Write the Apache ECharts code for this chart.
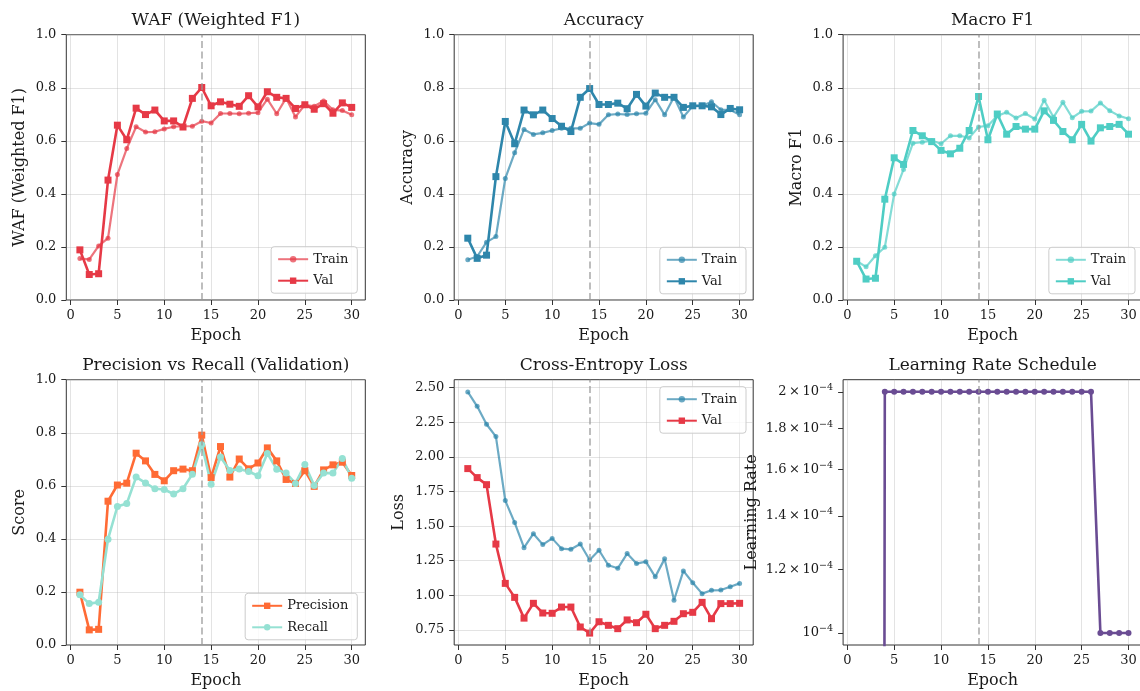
<!DOCTYPE html>
<html>
<head>
<meta charset="utf-8">
<title>Training curves</title>
<script src="https://cdn.jsdelivr.net/npm/echarts@6/dist/echarts.min.js"></script>
<style>
  html, body { margin: 0; padding: 0; background: #fff; }
  #main { width: 1140px; height: 691px; }
</style>
</head>
<body>
<div id="main"></div>
<script>
// 数据
let epochs = [1, 2, 3, 4, 5, 6, 7, 8, 9, 10, 11, 12, 13, 14, 15, 16, 17, 18, 19, 20, 21, 22, 23, 24, 25, 26, 27, 28, 29, 30]
let bestEpoch = 14

let wafTrain = [0.156, 0.153, 0.204, 0.233, 0.473, 0.571, 0.653, 0.633, 0.634, 0.645, 0.653, 0.655, 0.655, 0.674, 0.667, 0.703, 0.703, 0.702, 0.704, 0.706, 0.757, 0.702, 0.761, 0.690, 0.736, 0.730, 0.750, 0.717, 0.714, 0.698]
let wafVal = [0.189, 0.096, 0.099, 0.452, 0.659, 0.604, 0.723, 0.699, 0.716, 0.675, 0.675, 0.652, 0.760, 0.801, 0.732, 0.747, 0.738, 0.730, 0.770, 0.728, 0.785, 0.764, 0.760, 0.722, 0.736, 0.719, 0.740, 0.704, 0.743, 0.726]

let accTrain = [0.152, 0.164, 0.218, 0.239, 0.458, 0.555, 0.643, 0.624, 0.630, 0.639, 0.647, 0.647, 0.647, 0.667, 0.662, 0.698, 0.701, 0.699, 0.702, 0.704, 0.755, 0.698, 0.765, 0.690, 0.731, 0.731, 0.747, 0.717, 0.717, 0.698]
let accVal = [0.233, 0.157, 0.169, 0.465, 0.673, 0.589, 0.716, 0.698, 0.716, 0.684, 0.655, 0.635, 0.764, 0.797, 0.737, 0.737, 0.742, 0.721, 0.775, 0.731, 0.780, 0.764, 0.764, 0.726, 0.732, 0.732, 0.728, 0.699, 0.722, 0.717]

let f1Train = [0.147, 0.125, 0.167, 0.199, 0.400, 0.492, 0.591, 0.595, 0.601, 0.589, 0.619, 0.619, 0.611, 0.652, 0.657, 0.694, 0.708, 0.686, 0.703, 0.682, 0.753, 0.689, 0.745, 0.687, 0.711, 0.712, 0.743, 0.713, 0.694, 0.683]
let f1Val = [0.146, 0.079, 0.082, 0.380, 0.536, 0.511, 0.639, 0.619, 0.597, 0.564, 0.551, 0.572, 0.639, 0.767, 0.604, 0.701, 0.625, 0.654, 0.644, 0.644, 0.713, 0.677, 0.635, 0.604, 0.662, 0.599, 0.649, 0.654, 0.662, 0.625]

let precVal = [0.199, 0.057, 0.059, 0.542, 0.603, 0.610, 0.723, 0.694, 0.643, 0.619, 0.657, 0.663, 0.657, 0.791, 0.631, 0.748, 0.633, 0.701, 0.664, 0.686, 0.743, 0.694, 0.624, 0.609, 0.657, 0.598, 0.660, 0.679, 0.689, 0.639]
let recVal = [0.189, 0.156, 0.161, 0.399, 0.522, 0.533, 0.633, 0.611, 0.589, 0.586, 0.569, 0.589, 0.644, 0.755, 0.606, 0.709, 0.658, 0.663, 0.654, 0.638, 0.722, 0.662, 0.648, 0.609, 0.680, 0.601, 0.648, 0.648, 0.703, 0.629]

let lossTrain = [2.469, 2.365, 2.235, 2.146, 1.684, 1.525, 1.344, 1.445, 1.366, 1.411, 1.337, 1.332, 1.370, 1.255, 1.325, 1.217, 1.195, 1.301, 1.229, 1.243, 1.133, 1.263, 0.964, 1.176, 1.091, 1.012, 1.036, 1.038, 1.062, 1.086]
let lossVal = [1.915, 1.850, 1.799, 1.370, 1.086, 0.985, 0.835, 0.942, 0.872, 0.870, 0.915, 0.915, 0.771, 0.727, 0.809, 0.783, 0.759, 0.822, 0.802, 0.863, 0.759, 0.783, 0.812, 0.867, 0.877, 0.949, 0.831, 0.940, 0.940, 0.942]

// 前三个 epoch 学习率为 0，在对数轴上看不到
let lrValues = [0, 0, 0, 2e-4, 2e-4, 2e-4, 2e-4, 2e-4, 2e-4, 2e-4, 2e-4, 2e-4, 2e-4, 2e-4, 2e-4, 2e-4, 2e-4, 2e-4, 2e-4, 2e-4, 2e-4, 2e-4, 2e-4, 2e-4, 2e-4, 2e-4, 1e-4, 1e-4, 1e-4, 1e-4]

// 刻度
let epochTicks = [0, 5, 10, 15, 20, 25, 30]
let lossTicks = [0.75, 1.00, 1.25, 1.50, 1.75, 2.00, 2.25, 2.50]
let lrTicks = [1e-4, 1.2e-4, 1.4e-4, 1.6e-4, 1.8e-4, 2e-4]

let FONT = 'DejaVu Serif'
let TEXT = '#1a1a1a'
let SPINE = '#333'
let GRIDLINE = 'rgba(176,176,176,0.35)'

let panelLeft = [66.3, 454.2, 843.1]
let panelTop = [34.7, 379.7]
let panelW = 299
let panelH = 265.3

let option = {
  animation: false,
  backgroundColor: '#fff',
  title: [],
  legend: [],
  grid: [],
  xAxis: [],
  yAxis: [],
  series: []
}

function pairs (values) {
  return epochs.map(function (e, i) { return [e, values[i]] })
}

function addPanel (idx, cfg) {
  let col = idx % 3
  let row = Math.floor(idx / 3)
  let left = panelLeft[col]
  let top = panelTop[row]
  option.title.push({
    text: cfg.title,
    left: left + panelW / 2,
    top: top - 23,
    textAlign: 'center',
    padding: 0,
    textStyle: { fontFamily: FONT, fontSize: 17, fontWeight: 'normal', color: TEXT }
  })
  option.grid.push({
    left: left,
    top: top,
    width: panelW,
    height: panelH,
    show: true,
    borderColor: SPINE,
    borderWidth: 1,
    backgroundColor: 'transparent',
    outerBoundsMode: 'none'
  })
  option.xAxis.push({
    gridIndex: idx,
    type: 'value',
    min: -0.45,
    max: 31.45,
    name: 'Epoch',
    nameLocation: 'middle',
    nameGap: 28,
    nameTextStyle: { fontFamily: FONT, fontSize: 16, color: TEXT },
    axisLine: { show: false, onZero: false },
    axisTick: { show: true, length: 5, lineStyle: { color: SPINE }, customValues: epochTicks },
    axisLabel: { customValues: epochTicks, fontFamily: FONT, fontSize: 13, color: TEXT, margin: 9 },
    splitLine: { show: true, lineStyle: { color: GRIDLINE, width: 1 } }
  })
  let y = {
    gridIndex: idx,
    name: cfg.yName,
    nameLocation: 'middle',
    nameGap: cfg.nameGap || 38,
    nameTextStyle: { fontFamily: FONT, fontSize: 16, color: TEXT },
    axisLine: { show: false, onZero: false },
    axisTick: { show: true, length: 5, lineStyle: { color: SPINE } },
    axisLabel: { fontFamily: FONT, fontSize: 13, color: TEXT, margin: 10 },
    splitLine: { show: true, lineStyle: { color: GRIDLINE, width: 1 } }
  }
  if (cfg.yType === 'score') {
    y.type = 'value'
    y.min = 0
    y.max = 1
    y.interval = 0.2
    y.axisLabel.formatter = function (v) { return v.toFixed(1) }
  } else if (cfg.yType === 'loss') {
    y.type = 'value'
    y.min = 0.641
    y.max = 2.557
    y.axisTick.customValues = lossTicks
    y.axisLabel.customValues = lossTicks
    y.axisLabel.formatter = function (v) { return v.toFixed(2) }
  } else {
    y.type = 'log'
    y.min = 0.966e-4
    y.max = 2.0706e-4
    y.axisTick.customValues = lrTicks
    y.axisLabel.customValues = lrTicks
    y.splitLine.show = false
    // 上标用富文本
    y.axisLabel.rich = {
      b: { fontFamily: FONT, fontSize: 13, color: TEXT, lineHeight: 18, verticalAlign: 'middle' },
      s: { fontFamily: FONT, fontSize: 9.5, color: TEXT, lineHeight: 11, verticalAlign: 'top' }
    }
    y.axisLabel.formatter = function (v) {
      let m = Math.round(v / 1e-5) / 10
      if (m === 1) return '{b|10}{s|\u22124}'
      return '{b|' + m + '\u2009×\u200910}{s|\u22124}'
    }
  }
  option.yAxis.push(y)

  let names = []
  cfg.lines.forEach(function (ln, k) {
    let name = ln.label + '|' + idx
    names.push(name)
    let s = {
      name: name,
      type: 'line',
      xAxisIndex: idx,
      yAxisIndex: idx,
      data: pairs(ln.values),
      symbol: ln.symbol,
      symbolSize: ln.size,
      clip: true,
      lineStyle: { color: ln.color, width: ln.width, opacity: ln.opacity },
      itemStyle: { color: ln.color, opacity: ln.opacity, borderWidth: 0 },
      emphasis: { disabled: true }
    }
    if (k === 0) {
      let marks = [{ xAxis: bestEpoch }]
      if (cfg.yType === 'lr') {
        marks.push({ yAxis: 1e-4, lineStyle: { color: GRIDLINE, type: 'solid', width: 1, opacity: 1 } })
      }
      s.markLine = {
        silent: true,
        symbol: 'none',
        label: { show: false },
        animation: false,
        lineStyle: { color: '#999', type: [7, 3.5], width: 1.8, opacity: 0.7 },
        data: marks
      }
    }
    option.series.push(s)
  })

  if (cfg.legend) {
    let lg = {
      data: names,
      orient: 'vertical',
      right: cfg.legend.right,
      top: cfg.legend.top,
      itemWidth: 30,
      itemHeight: 8,
      itemGap: 8.5,
      padding: [6, 9, 6, 6],
      borderColor: '#cccccc',
      borderWidth: 1,
      borderRadius: 3,
      backgroundColor: 'rgba(255,255,255,0.8)',
      selectedMode: false,
      textStyle: { fontFamily: FONT, fontSize: 13, color: TEXT },
      formatter: function (name) { return name.split('|')[0] }
    }
    option.legend.push(lg)
  }
}

let RED = '#E63946'
let BLUE = '#2E86AB'
let TEAL = '#4ECDC4'
let ORANGE = '#FF6B35'
let MINT = '#95E1D3'
let PURPLE = '#6A4C93'

function trainVal (trainArr, valArr, color) {
  return [
    { label: 'Train', values: trainArr, color: color, opacity: 0.7, width: 2.2, symbol: 'circle', size: 5 },
    { label: 'Val', values: valArr, color: color, opacity: 1, width: 2.6, symbol: 'rect', size: 7 }
  ]
}

addPanel(0, { title: 'WAF (Weighted F1)', yName: 'WAF (Weighted F1)', yType: 'score',
  lines: trainVal(wafTrain, wafVal, RED), legend: { right: 782.7, top: 246.7 } })
addPanel(1, { title: 'Accuracy', yName: 'Accuracy', yType: 'score',
  lines: trainVal(accTrain, accVal, BLUE), legend: { right: 394, top: 247.3 } })
addPanel(2, { title: 'Macro F1', yName: 'Macro F1', yType: 'score',
  lines: trainVal(f1Train, f1Val, TEAL), legend: { right: 5, top: 247.3 } })
addPanel(3, { title: 'Precision vs Recall (Validation)', yName: 'Score', yType: 'score',
  lines: [
    { label: 'Precision', values: precVal, color: ORANGE, opacity: 1, width: 2.6, symbol: 'rect', size: 7 },
    { label: 'Recall', values: recVal, color: MINT, opacity: 1, width: 2.6, symbol: 'circle', size: 7 }
  ],
  legend: { right: 782.7, top: 593.3 } })
addPanel(4, { title: 'Cross-Entropy Loss', yName: 'Loss', yType: 'loss', nameGap: 47,
  lines: [
    { label: 'Train', values: lossTrain, color: BLUE, opacity: 0.7, width: 2.2, symbol: 'circle', size: 5 },
    { label: 'Val', values: lossVal, color: RED, opacity: 1, width: 2.6, symbol: 'rect', size: 7 }
  ],
  legend: { right: 394, top: 386.7 } })
// 对数轴不能画 0，像 matplotlib 一样把非正数压到很小的正数
addPanel(5, { title: 'Learning Rate Schedule', yName: 'Learning Rate', yType: 'lr', nameGap: 83,
  lines: [
    { label: 'LR', values: lrValues.map(function (v) { return v > 0 ? v : 1e-12 }), color: PURPLE, opacity: 1, width: 2.6, symbol: 'circle', size: 6 }
  ] })

let chart = echarts.init(document.getElementById('main'), null, { renderer: 'canvas' })
chart.setOption(option)
</script>
</body>
</html>
